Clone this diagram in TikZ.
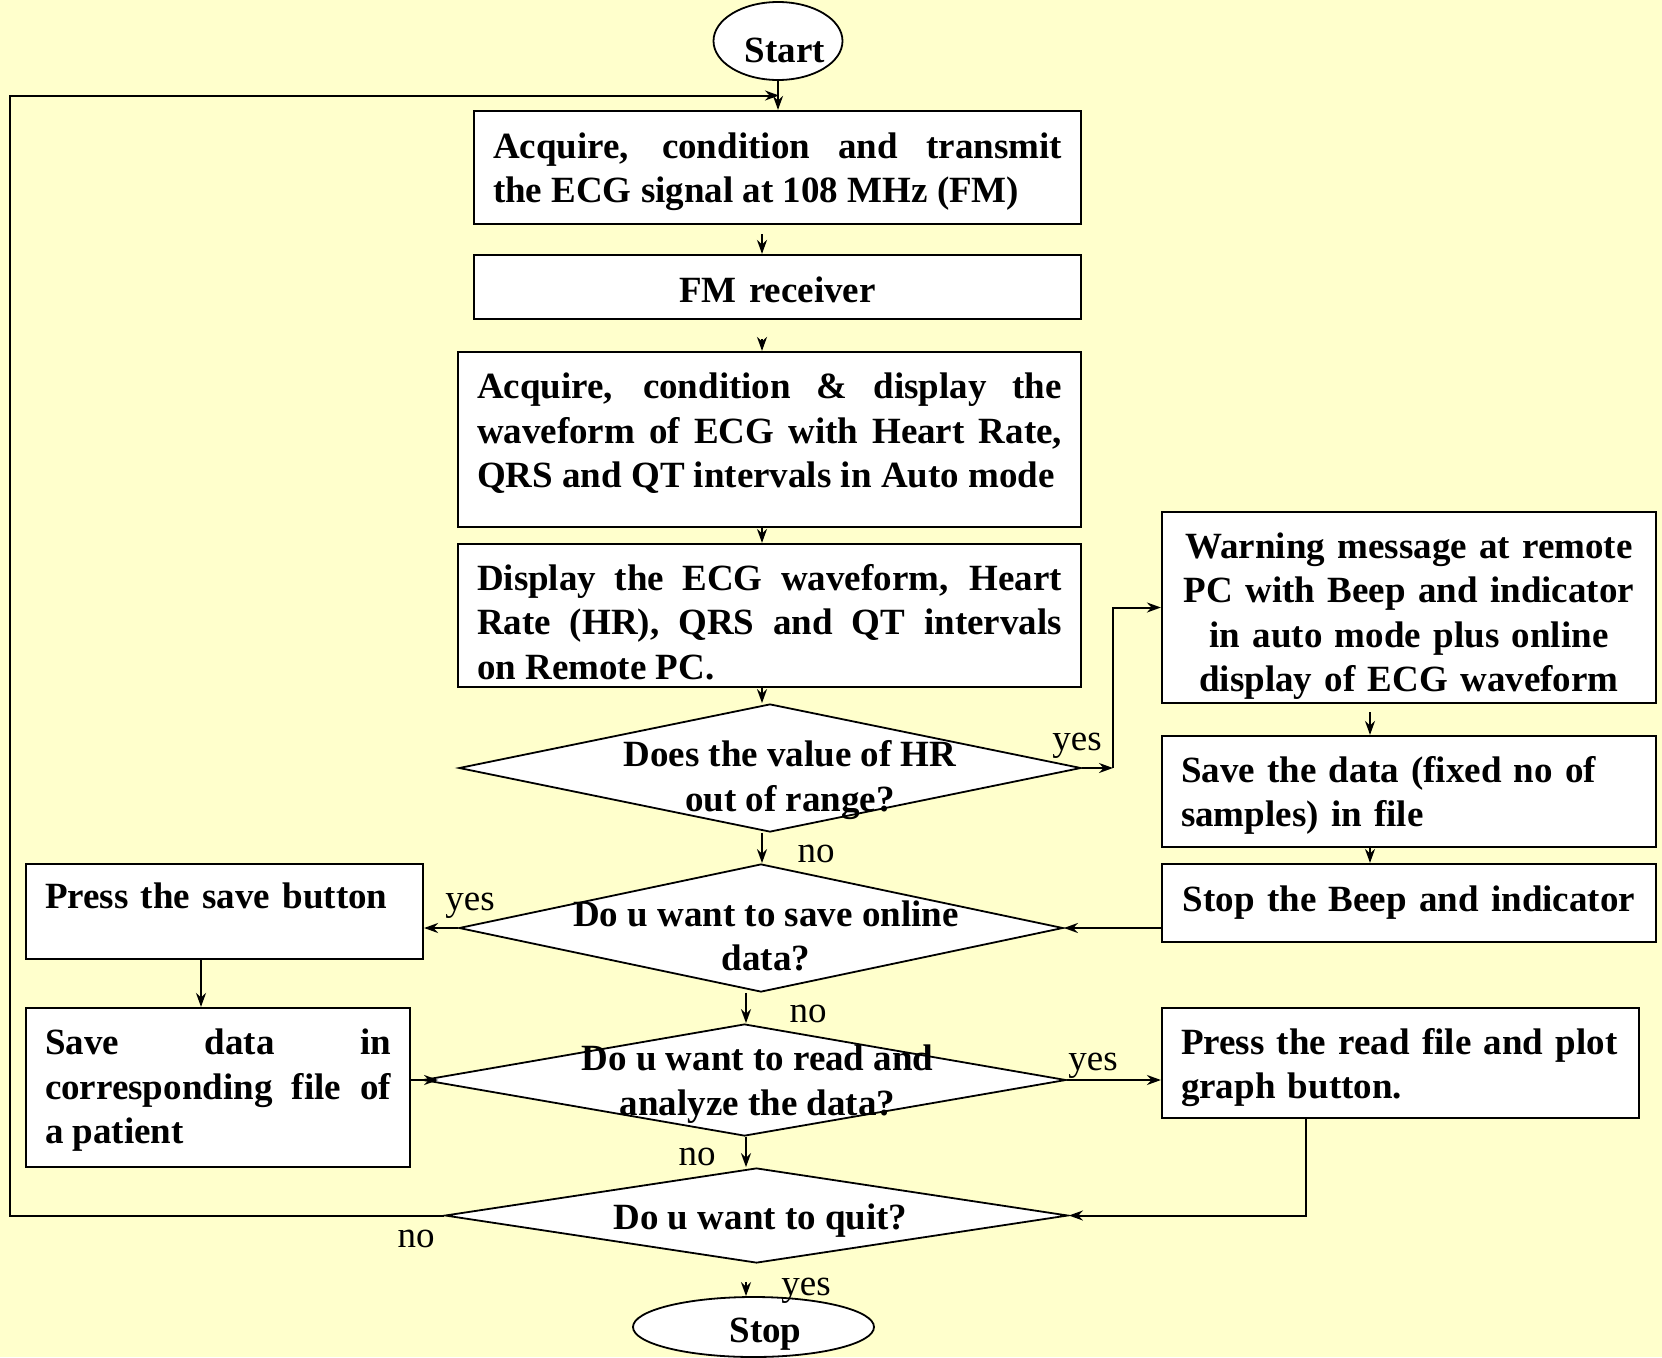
\documentclass[tikz,border=0pt]{standalone}
\usepackage{fontspec}
\setmainfont{Liberation Serif}
\usetikzlibrary{positioning,arrows.meta,shapes.geometric}
\definecolor{pageyellow}{RGB}{255,255,204}
\hyphenpenalty=10000
\tolerance=9999

\begin{document}
\begin{tikzpicture}[x=1pt,y=-1pt,
    box/.style={draw,line width=2.2pt,fill=white,inner xsep=19pt,inner ysep=0pt,
                font=\fontsize{37}{44.5}\selectfont\bfseries},
    dmd/.style={draw,diamond,line width=1.8pt,fill=white,inner sep=0pt},
    dtext/.style={font=\fontsize{37}{44.5}\selectfont\bfseries,align=center,inner sep=0pt},
    term/.style={draw,ellipse,line width=1.8pt,fill=white,inner sep=0pt,
                 font=\fontsize{37}{44.5}\selectfont\bfseries},
    lbl/.style={font=\fontsize{37}{44.5}\selectfont,inner sep=0pt},
    arr/.style={-{Stealth[length=14pt,width=10pt]},line width=2pt}]
  \useasboundingbox (0,0) rectangle (1662,1357);
  \fill[pageyellow] (0,0) rectangle (1662,1357);

  \node[term,minimum width=129pt,minimum height=78pt,text height=43pt,text depth=0pt]
    (start) at (778,41) {\hspace*{7pt}Start\hspace*{-7pt}};
  \node[box,text width=569pt,align=justify,minimum height=113pt,text height=34.5pt]
    (acq) at (777.5,167.5)
    {Acquire, condition and transmit\linebreak the ECG signal at 108 MHz (FM)};
  \node[box,text width=569pt,align=center,minimum height=64pt,text height=31pt]
    (fmr) at (777.5,287) {FM receiver};
  \node[box,text width=585pt,align=justify,minimum height=175pt,text height=13.5pt]
    (acqd) at (769.5,439.5)
    {Acquire, condition \& display the\linebreak waveform of ECG with Heart Rate,\linebreak
     QRS and QT intervals in Auto mode};
  \node[box,text width=585pt,align=justify,minimum height=143pt,text height=39.5pt]
    (disp) at (769.5,615.5)
    {Display the ECG waveform, Heart\linebreak Rate (HR), QRS and QT intervals\linebreak
     on Remote PC.};

  \node[dmd,minimum width=622pt,minimum height=128pt,
        label={[dtext,xshift=20pt,yshift=-12pt]center:{Does the value of HR\\out of range?}}]
    (dhr) at (770,768) {};
  \node[dmd,minimum width=604pt,minimum height=128pt,
        label={[dtext,xshift=5pt,yshift=-8pt]center:{Do u want to save online\\data?}}]
    (dsave) at (761,928) {};
  \node[dmd,minimum width=643pt,minimum height=112pt,
        label={[dtext,xshift=13pt,yshift=-4pt]center:{Do u want to read and\\analyze the data?}}]
    (dread) at (744.5,1080) {};
  \node[dmd,minimum width=623pt,minimum height=95pt,
        label={[dtext,xshift=4pt,yshift=-5pt]center:{Do u want to quit?}}]
    (dquit) at (756.5,1215.5) {};
  \node[term,minimum width=241pt,minimum height=60pt,text height=30pt,text depth=0pt]
    (stop) at (753.5,1327) {\hspace*{12pt}Stop\hspace*{-12pt}};

  \node[box,text width=456pt,align=center,minimum height=191pt,text height=42.5pt]
    (warn) at (1409,607.5)
    {Warning message at remote\\PC with Beep and indicator\\in auto mode plus online\\
     display of ECG waveform};
  \node[box,text width=456pt,align=left,minimum height=111pt,text height=33.5pt]
    (save) at (1409,791.5) {Save the data (fixed no of\\samples) in file};
  \node[box,text width=456pt,align=center,minimum height=78pt] (beep) at (1409,903)
    {Stop the Beep and indicator};
  \node[box,text width=439pt,align=left,minimum height=110pt,text height=35.5pt]
    (pread) at (1400.5,1063) {Press the read file and plot\\graph button.};

  \node[box,text width=359pt,align=left,minimum height=95pt,text depth=32pt] (psave)
    at (224.5,911.5) {Press the save button};
  \node[box,text width=346pt,align=justify,minimum height=159pt,text height=31.5pt]
    (sfile) at (218,1087.5)
    {Save data in\linebreak corresponding file of\linebreak a patient};

  \coordinate (join) at (779,95.5);
  \coordinate (lc) at (10,95.5);
  \coordinate (ax) at (762,0);
  \coordinate (bx) at (746,0);
  \coordinate (rx) at (1370,0);
  \coordinate (px) at (201,0);
  \coordinate (qx) at (1306,0);
  \coordinate (ycorner) at (1113,768);

  \draw[arr] (start.south) -- (start.south |- acq.north);
  \draw[arr] (dquit.west) -| (lc) -- (join);
  \draw[arr,shorten <=9pt] (acq.south -| ax) -- (fmr.north -| ax);
  \draw[arr,shorten <=19pt] (fmr.south -| ax) -- (acqd.north -| ax);
  \draw[arr] (acqd.south -| ax) -- (disp.north -| ax);
  \draw[arr] (disp.south -| ax) -- (dhr.north -| ax);
  \draw[arr] (dhr.south -| ax) -- (dsave.north -| ax);
  \draw[arr] (dhr.east) -- (ycorner);
  \draw[arr] (ycorner) |- (warn.west);
  \draw[arr,shorten <=8pt] (warn.south -| rx) -- (save.north -| rx);
  \draw[arr] (save.south -| rx) -- (beep.north -| rx);
  \draw[arr] (beep.west |- dsave.east) -- (dsave.east);
  \draw[arr] (dsave.west) -- (psave.east |- dsave.west);
  \draw[arr] (psave.south -| px) -- (sfile.north -| px);
  \draw[arr,shorten >=-16pt] (sfile.east |- dread.west) -- (dread.west);
  \draw[arr] (dsave.south -| bx) -- (dread.north -| bx);
  \draw[arr] (dread.east) -- (pread.west |- dread.east);
  \draw[arr] (dread.south -| bx) -- (dquit.north -| bx);
  \draw[arr] (pread.south -| qx) |- (dquit.east);
  \draw[arr,shorten <=18pt] (dquit.south -| bx) -- (stop.north -| bx);

  \node[lbl] (yeshr) at (1077,746) {yes};
  \node[lbl] (nohr) at (816,854) {no};
  \node[lbl] (yessave) at (470,906) {yes};
  \node[lbl] (nosave) at (808,1014) {no};
  \node[lbl] (yesread) at (1093,1066) {yes};
  \node[lbl] (noread) at (697,1157) {no};
  \node[lbl] (noquit) at (416,1239) {no};
  \node[lbl] (yesquit) at (806,1291) {yes};
\end{tikzpicture}
\end{document}
